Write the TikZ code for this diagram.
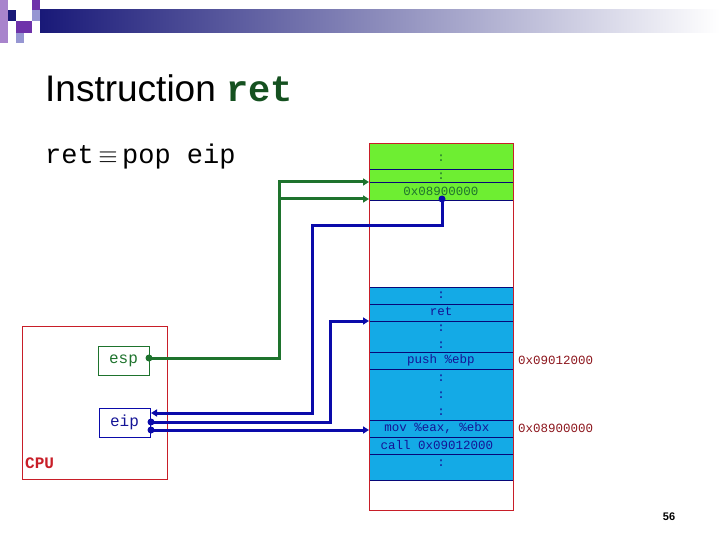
\documentclass[tikz,border=0pt]{standalone}
\usepackage{fontspec}
\setmainfont{Liberation Sans}
\newfontfamily\mono{Liberation Mono}
\usetikzlibrary{arrows.meta}
\definecolor{memgreen}{RGB}{110,238,50}
\definecolor{memblue}{RGB}{20,170,230}
\definecolor{agreen}{RGB}{30,115,45}
\definecolor{ablue}{RGB}{10,10,170}
\definecolor{txtblue}{RGB}{20,20,150}
\definecolor{dred}{RGB}{200,30,40}
\definecolor{hdark}{RGB}{25,25,120}
\definecolor{hpurp}{RGB}{110,50,170}
\definecolor{hlight}{RGB}{150,150,210}
\begin{document}
\begin{tikzpicture}[x=1pt,y=-1pt,
  cell/.style={draw=ablue!70!black,line width=0.6pt},
  mtext/.style={font=\mono\fontsize{12.5}{12.5}\selectfont,inner sep=0pt},
  gline/.style={draw=agreen,line width=3pt},
  bline/.style={draw=ablue,line width=3pt},
  tip/.style={-{Triangle[length=6pt,width=7pt]}},
  dot/.style={circle,fill,inner sep=0pt,minimum size=7pt}]
\useasboundingbox (0,0) rectangle (720,540);
% header decoration
\shade[left color=hdark,right color=white] (40,10) rectangle (720,33);
\fill[hdark] (8,10) rectangle (16,21);
\fill[hpurp] (16,21) rectangle (32,33);
\fill[hpurp] (32,0) rectangle (40,10);
\fill[hlight] (16,33) rectangle (24,43);
\fill[hlight] (32,10) rectangle (40,21);
\fill[hpurp!60] (0,0) rectangle (8,43);
% titles
\node[anchor=base west,inner sep=0pt,font=\fontsize{37}{37}\selectfont] (title) at (45,102) {Instruction \textcolor{agreen!70!black}{\mono\bfseries ret}};
\node[anchor=base west,inner sep=0pt,font=\mono\fontsize{27}{27}\selectfont] (eq) at (45,164) {ret\,\textbf{\(\equiv\)}\,pop eip};
% memory
\draw[dred,line width=0.8pt] (369,143) rectangle (513,510);
\fill[memgreen] (369,143) rectangle (513,200);
\draw[cell] (369,169) -- (513,169) (369,182) -- (513,182) (369,200) -- (513,200) (369,143)--(513,143);
\fill[memblue] (369,287) rectangle (513,480);
\foreach \y in {287,304,321,352,369,420,437,454,480} \draw[cell] (369,\y) -- (513,\y);
\draw[dred,line width=0.8pt] (369,143) rectangle (513,510);
\node[mtext,text=agreen] (g1) at (441,158) {:};
\node[mtext,text=agreen] (g2) at (441,176) {:};
\node[mtext,text=agreen] (g3) at (441,191) {0x08900000};
\node[mtext,text=txtblue] (b1) at (441,295) {:};
\node[mtext,text=txtblue] (b2) at (441,311) {ret};
\node[mtext,text=txtblue] (b3) at (441,328) {:};
\node[mtext,text=txtblue] (b4) at (441,345) {:};
\node[mtext,text=txtblue] (b5) at (441,360) {push \%ebp};
\node[mtext,text=txtblue] (b6) at (441,378) {:};
\node[mtext,text=txtblue] (b7) at (441,395) {:};
\node[mtext,text=txtblue] (b8) at (441,412) {:};
\node[mtext,text=txtblue] (b9) at (437,428) {mov \%eax, \%ebx};
\node[mtext,text=txtblue] (b10) at (437,445) {call 0x09012000};
\node[mtext,text=txtblue] (b11) at (441,463) {:};
\node[mtext,text=dred!70!black,anchor=west] (l1) at (518,360) {0x09012000};
\node[mtext,text=dred!70!black,anchor=west] (l2) at (518,428) {0x08900000};
% CPU
\draw[dred,line width=0.8pt] (22,326) rectangle (167,479);
\node[anchor=base west,inner sep=0pt,text=dred,font=\mono\bfseries\fontsize{16}{16}\selectfont] (cpu) at (25,468) {CPU};
\node[draw=agreen,line width=0.8pt,minimum width=51pt,minimum height=29pt,inner sep=0pt,font=\mono\fontsize{16}{16}\selectfont,text=agreen] (esp) at (123.5,360.5) {esp};
\node[draw=ablue,line width=0.8pt,minimum width=51pt,minimum height=29pt,inner sep=0pt,font=\mono\fontsize{16}{16}\selectfont,text=txtblue] (eip) at (124.5,422.5) {eip};
% connectors
\coordinate (m1) at (369,182);
\coordinate (m2) at (369,199);
\coordinate (m3) at (369,321);
\coordinate (m4) at (369,430);
\node[dot,fill=agreen] (ed) at (149,358) {};
\draw[gline,tip] (ed.center) -- (279,358) -- (279,182) -- (m1);
\draw[gline,tip] (279,199) -- (m2);
\node[dot,fill=ablue] (vd) at (442,199) {};
\draw[bline,tip] (vd.center) -- (442,226) -- (312,226) -- (312,413) -- (151,413);
\node[dot,fill=ablue] (e1) at (151,422) {};
\node[dot,fill=ablue] (e2) at (151,430) {};
\draw[bline,tip] (e1.center) -- (330,422) -- (330,321) -- (m3);
\draw[bline,tip] (e2.center) -- (m4);
\node[anchor=base,inner sep=0pt,font=\bfseries\fontsize{11}{11}\selectfont] (pg) at (669,520) {56};
\end{tikzpicture}
\end{document}
